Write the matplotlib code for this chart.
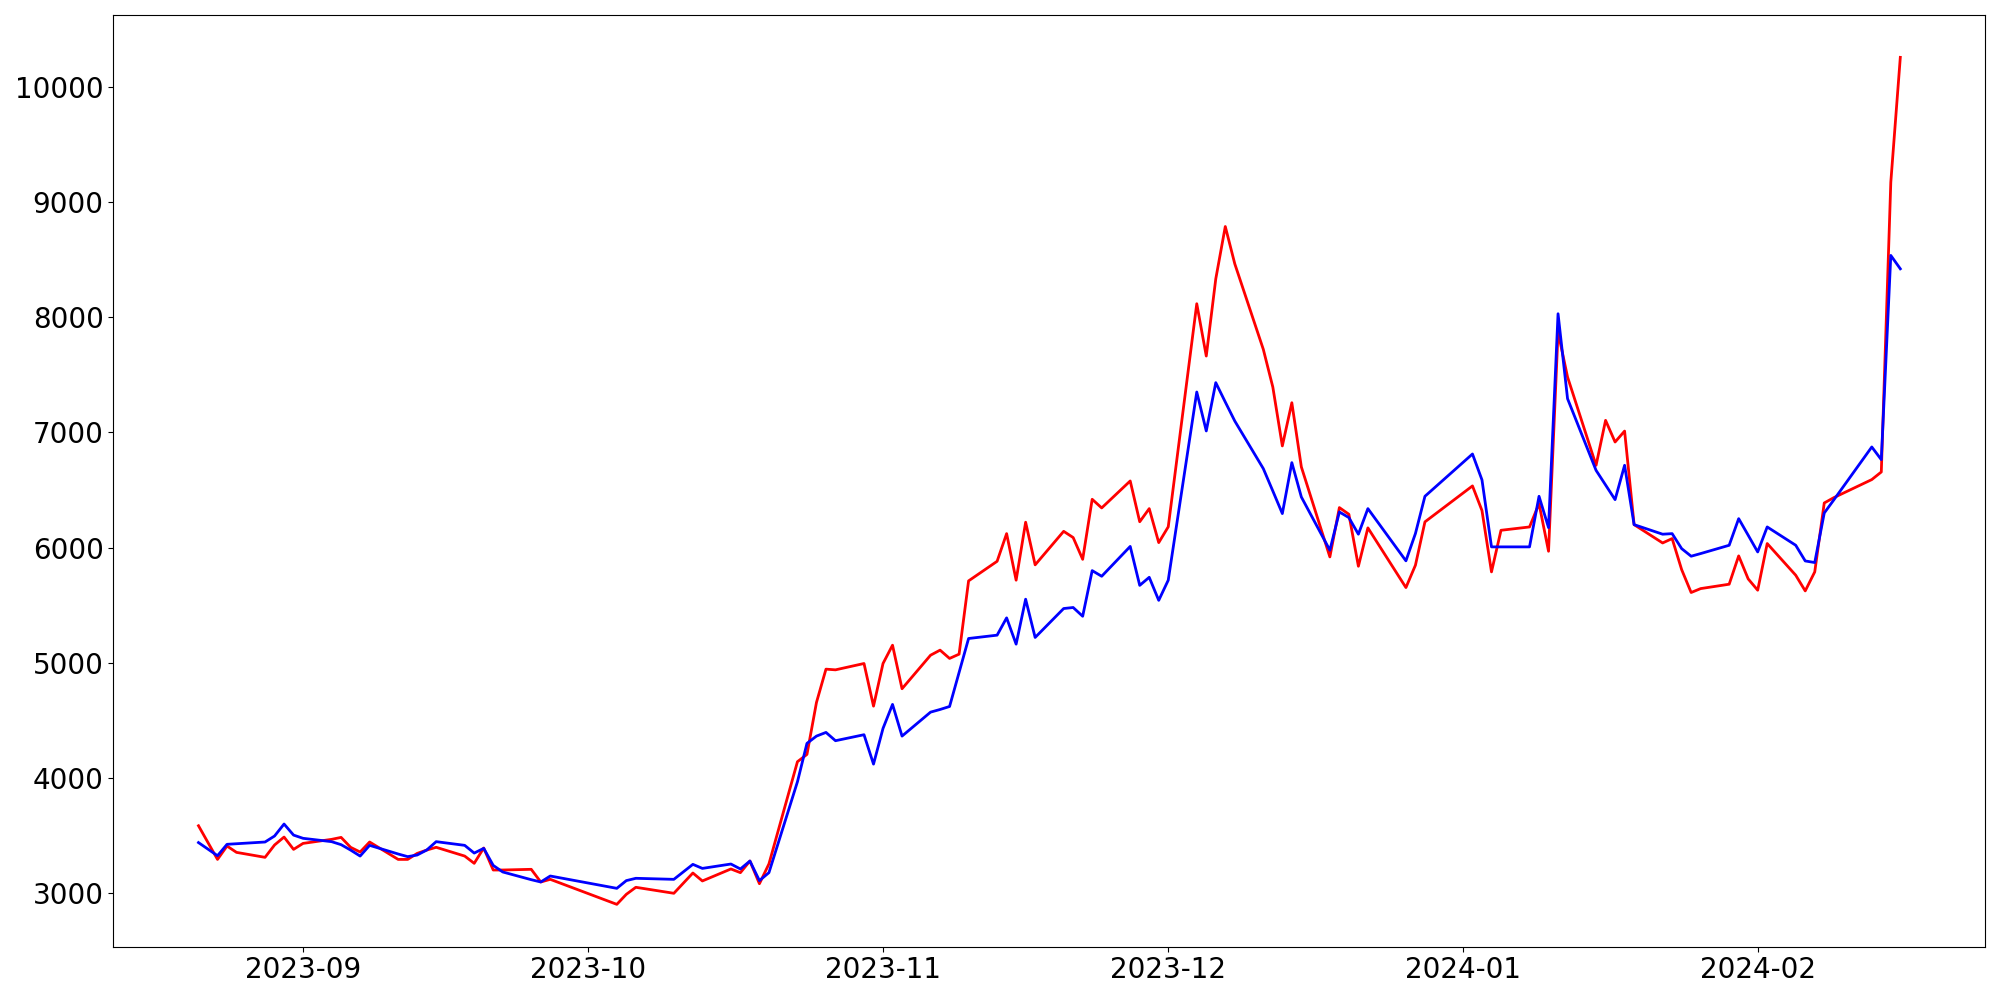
import matplotlib
matplotlib.use("Agg")
import matplotlib.pyplot as plt
import pandas as pd

dates = [
    "2023-08-21", "2023-08-23", "2023-08-24", "2023-08-25", "2023-08-28", "2023-08-29",
    "2023-08-30", "2023-08-31", "2023-09-01", "2023-09-04", "2023-09-05", "2023-09-06",
    "2023-09-07", "2023-09-08", "2023-09-11", "2023-09-12", "2023-09-13", "2023-09-14",
    "2023-09-15", "2023-09-18", "2023-09-19", "2023-09-20", "2023-09-21", "2023-09-22",
    "2023-09-25", "2023-09-26", "2023-09-27", "2023-10-04", "2023-10-05", "2023-10-06",
    "2023-10-10", "2023-10-12", "2023-10-13", "2023-10-16", "2023-10-17", "2023-10-18",
    "2023-10-19", "2023-10-20", "2023-10-23", "2023-10-24", "2023-10-25", "2023-10-26",
    "2023-10-27", "2023-10-30", "2023-10-31", "2023-11-01", "2023-11-02", "2023-11-03",
    "2023-11-06", "2023-11-07", "2023-11-08", "2023-11-09", "2023-11-10", "2023-11-13",
    "2023-11-14", "2023-11-15", "2023-11-16", "2023-11-17", "2023-11-20", "2023-11-21",
    "2023-11-22", "2023-11-23", "2023-11-24", "2023-11-27", "2023-11-28", "2023-11-29",
    "2023-11-30", "2023-12-01", "2023-12-04", "2023-12-05", "2023-12-06", "2023-12-07",
    "2023-12-08", "2023-12-11", "2023-12-12", "2023-12-13", "2023-12-14", "2023-12-15",
    "2023-12-18", "2023-12-19", "2023-12-20", "2023-12-21", "2023-12-22", "2023-12-26",
    "2023-12-27", "2023-12-28", "2024-01-02", "2024-01-03", "2024-01-04", "2024-01-05",
    "2024-01-08", "2024-01-09", "2024-01-10", "2024-01-11", "2024-01-12", "2024-01-15",
    "2024-01-16", "2024-01-17", "2024-01-18", "2024-01-19", "2024-01-22", "2024-01-23",
    "2024-01-24", "2024-01-25", "2024-01-26", "2024-01-29", "2024-01-30", "2024-01-31",
    "2024-02-01", "2024-02-02", "2024-02-05", "2024-02-06", "2024-02-07", "2024-02-08",
    "2024-02-09", "2024-02-13", "2024-02-14", "2024-02-15", "2024-02-16",
]

red_values = [
    3586, 3294, 3410, 3355, 3312, 3419,
    3488, 3381, 3433, 3468, 3485, 3399,
    3358, 3445, 3294, 3294, 3346, 3375,
    3399, 3323, 3260, 3393, 3202, 3202,
    3208, 3098, 3121, 2904, 2991, 3052,
    3000, 3176, 3107, 3211, 3179, 3280,
    3083, 3255, 4142, 4205, 4656, 4945,
    4939, 4994, 4624, 4994, 5153, 4775,
    5066, 5110, 5038, 5075, 5711, 5881,
    6121, 5717, 6220, 5850, 6141, 6087,
    5898, 6419, 6344, 6578, 6224, 6338,
    6043, 6180, 8116, 7662, 8332, 8786,
    8462, 7720, 7393, 6882, 7257, 6700,
    5919, 6347, 6289, 5838, 6171, 5653,
    5847, 6223, 6535, 6321, 5789, 6150,
    6179, 6381, 5968, 7870, 7480, 6714,
    7104, 6916, 7011, 6199, 6040, 6078,
    5809, 5610, 5644, 5682, 5928, 5728,
    5630, 6035, 5760, 5624, 5789, 6387,
    6433, 6590, 6656, 9170, 10254,
]

blue_values = [
    3440, 3326, 3425, 3430, 3445, 3497,
    3601, 3505, 3477, 3448, 3422, 3375,
    3323, 3416, 3341, 3318, 3332, 3375,
    3448, 3416, 3349, 3390, 3242, 3185,
    3118, 3098, 3150, 3043, 3110, 3130,
    3121, 3251, 3216, 3254, 3211, 3280,
    3110, 3179, 3968, 4301, 4364, 4396,
    4324, 4376, 4121, 4431, 4639, 4364,
    4572, 4595, 4621, 4916, 5211, 5240,
    5390, 5162, 5552, 5220, 5471, 5480,
    5404, 5800, 5751, 6010, 5672, 5742,
    5542, 5717, 7350, 7012, 7431, 7263,
    7098, 6685, 6491, 6295, 6737, 6439,
    5977, 6309, 6260, 6116, 6338, 5885,
    6122, 6445, 6812, 6587, 6006, 6006,
    6006, 6445, 6173, 8029, 7292, 6670,
    6543, 6416, 6714, 6199, 6116, 6121,
    5991, 5925, 5948, 6020, 6251, 6107,
    5962, 6179, 6020, 5884, 5870, 6300,
    6413, 6873, 6763, 8535, 8419,
]

x = pd.to_datetime(dates)

fig = plt.figure(figsize=(20, 10), dpi=100)
ax = fig.add_axes([0.0567, 0.0533, 0.936, 0.9317])
ax.plot(x, red_values, color="red", linewidth=2)
ax.plot(x, blue_values, color="blue", linewidth=2)
ax.tick_params(axis="both", labelsize=20)

fig.savefig("out.png", dpi=100)
